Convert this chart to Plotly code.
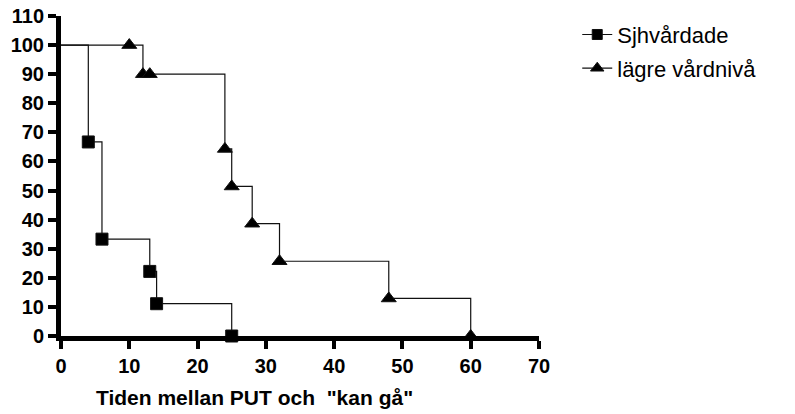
import plotly.graph_objects as go

# Kaplan-Meier style data
sjh_x = [0, 4, 6, 13, 14, 25]
sjh_y = [100, 66.7, 33.3, 22.2, 11.1, 0]
sjh_marker = [False, True, True, True, True, True]

lagre_x = [0, 10, 12, 13, 24, 25, 28, 32, 48, 60]
lagre_y = [100, 100, 90, 90, 64.3, 51.4, 38.6, 25.7, 12.9, 0]
lagre_marker = [False, True, True, True, True, True, True, True, True, True]

x_ticks = [0, 10, 20, 30, 40, 50, 60, 70]
y_ticks = [0, 10, 20, 30, 40, 50, 60, 70, 80, 90, 100, 110]

names = ["Sjhvårdade", "lägre vårdnivå"]
x_title = "Tiden mellan PUT och \u00a0\"kan gå\""

FONT = "Liberation Sans, Arial, sans-serif"
L, R, T, B = 61, 256, 16, 78

fig = go.Figure()
fig.add_trace(go.Scatter(
    x=sjh_x, y=sjh_y, name=names[0], mode="lines+markers",
    line=dict(shape="hv", color="#111111", width=1.2),
    marker=dict(symbol="square", color="black", opacity=1,
                size=[12 if m else 0 for m in sjh_marker]),
    cliponaxis=False, legendgroup="a",
))
fig.add_trace(go.Scatter(
    x=lagre_x, y=lagre_y, name=names[1], mode="lines+markers",
    line=dict(shape="hv", color="#111111", width=1.2),
    marker=dict(symbol="triangle-up", color="black", opacity=1,
                size=[13 if m else 0 for m in lagre_marker]),
    cliponaxis=False, legendgroup="b",
))

axis_common = dict(
    showline=True, linecolor="black", linewidth=5,
    ticks="outside", ticklen=8, tickwidth=4, tickcolor="black",
    showgrid=False, zeroline=False, automargin=False,
    tickfont=dict(family=FONT, size=20, color="black", weight="bold"),
    fixedrange=True,
)

fig.update_layout(
    template="none",
    width=795, height=414,
    margin=dict(l=L, r=R, t=T, b=B, pad=0, autoexpand=False),
    paper_bgcolor="white", plot_bgcolor="white",
    showlegend=True,
    legend=dict(
        x=1.08, y=1.0072, xanchor="left", yanchor="top",
        font=dict(family=FONT, size=22, color="black"),
        bgcolor="rgba(0,0,0,0)", borderwidth=0,
        traceorder="grouped", tracegroupgap=2, itemwidth=30,
    ),
    xaxis=dict(range=[0, 70], tickvals=x_ticks,
               ticktext=[f"<b>{v}</b>" for v in x_ticks], **axis_common),
    yaxis=dict(range=[0, 110], tickvals=y_ticks,
               ticktext=[f"<b>{v}</b>" for v in y_ticks], **axis_common),
    annotations=[dict(
        text=x_title, xref="paper", yref="paper", x=0.404, y=0,
        xanchor="center", yanchor="middle", yshift=-61, showarrow=False,
        font=dict(family=FONT, size=21, color="black", weight="bold"),
    )],
)

fig.write_html("out.html")
